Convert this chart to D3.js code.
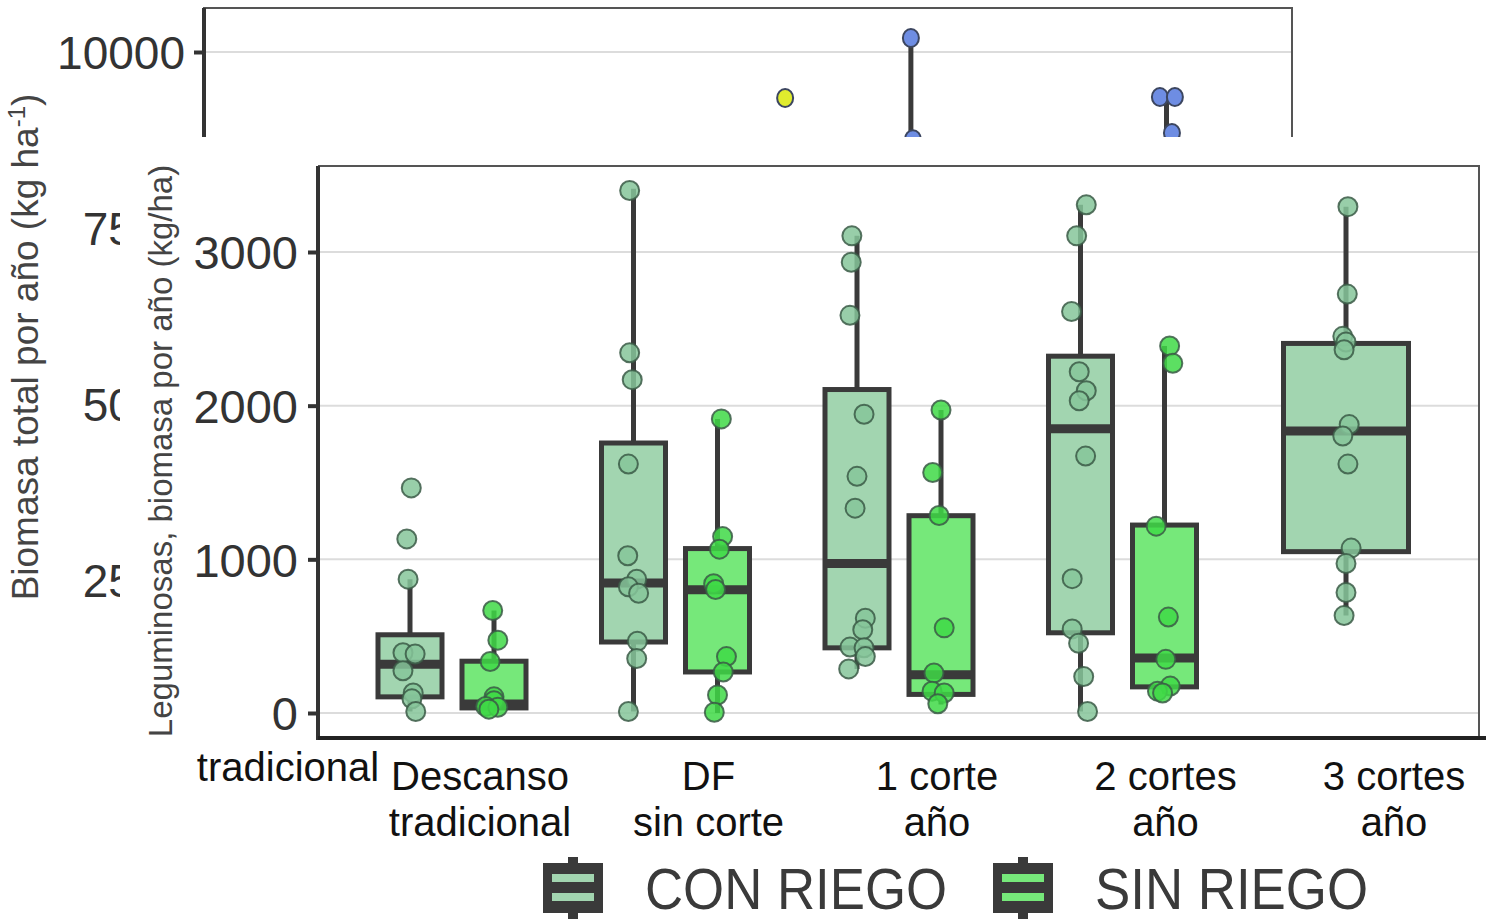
<!DOCTYPE html>
<html>
<head>
<meta charset="utf-8">
<script src="https://cdn.jsdelivr.net/npm/d3@7"></script>
<style>
  body { margin: 0; background: #fff; }
  text { font-family: "Liberation Sans", Arial, sans-serif; }
</style>
</head>
<body>
<svg width="1486" height="923"></svg>
<script>
// ---------------- data ----------------
var categories = ["Descanso tradicional", "DF sin corte", "1 corte año", "2 cortes año", "3 cortes año"];
var categoryLines = [["Descanso", "tradicional"], ["DF", "sin corte"], ["1 corte", "año"], ["2 cortes", "año"], ["3 cortes", "año"]];
var series = ["CON RIEGO", "SIN RIEGO"];
var yTicks = [0, 1000, 2000, 3000];

// box stats: [whisker low, q1, median, q3, whisker high]
var boxCon = [[10, 105, 317, 509, 871], [10, 462, 846, 1757, 3412], [287, 424, 973, 2105, 3105], [10, 522, 1850, 2322, 3307], [634, 1050, 1835, 2405, 3295]];
var boxSin = [[25, 33, 59, 337, 667], [0, 267, 802, 1070, 1914], [55, 121, 249, 1284, 1972], [125, 170, 358, 1223, 2389], null];

// observed points (value) with horizontal jitter as a share of box width
var ptsConVal = [[1465, 1133, 871, 392, 384, 275, 130, 92, 10],
                 [3400, 2344, 2169, 1620, 1023, 871, 821, 779, 467, 354, 10],
                 [3105, 2933, 2588, 1944, 1540, 1333, 617, 542, 429, 424, 367, 287],
                 [3307, 3105, 2613, 2221, 2097, 2032, 1672, 874, 547, 454, 237, 10],
                 [3295, 2726, 2451, 2414, 2364, 1877, 1802, 1620, 1073, 973, 784, 634]];
var ptsConJit = [[.02, -.05, -.03, -.11, .08, -.11, .05, .03, .09],
                 [-.06, -.06, -.02, -.08, -.09, .05, -.08, .08, .06, .05, -.08],
                 [-.08, -.09, -.11, .11, 0, -.03, .13, .09, -.11, .11, .13, -.13],
                 [.09, -.06, -.14, -.02, .09, -.02, .08, -.13, -.13, -.03, .05, .11],
                 [.03, .02, -.05, 0, -.03, .05, -.05, .03, .08, 0, 0, -.03]];
var ptsSinVal = [[667, 474, 335, 105, 80, 42, 37, 25],
                 [1914, 1148, 1066, 841, 804, 367, 267, 117, 5],
                 [1972, 1565, 1285, 554, 260, 142, 130, 60],
                 [2389, 2276, 1216, 624, 349, 175, 142, 130],
                 []];
var ptsSinJit = [[-.02, .06, -.06, 0, 0, -.13, .06, -.08],
                 [.06, .08, .03, -.06, -.03, .14, .09, 0, -.05],
                 [0, -.13, -.03, .05, -.11, -.14, .05, -.05],
                 [.08, .13, -.13, .06, .02, .09, -.11, -.03],
                 []];

// background chart (mostly hidden behind the inset)
var bgTicks = [2500, 5000, 7500, 10000];
var bgPointPos = [2.19, 2.744, 2.753, 3.841, 3.907, 3.894];
var bgPointVal = [9347, 10199, 8760, 9361, 9361, 8850];
var bgPointGroup = ["y", "b", "b", "b", "b", "b"];
var bgWhiskerPos = [2.744, 3.87];
var bgWhiskerLo = [8700, 8700];
var bgWhiskerHi = [10199, 9361];

// ---------------- styles ----------------
var fillBox = {"CON RIEGO": "#a2d5b0", "SIN RIEGO": "#76e87a"};
var fillPt = {"CON RIEGO": "#86c69a", "SIN RIEGO": "#3fd947"};
var dark = "#3a3a3a";

var svg = d3.select("svg");

// ################ background chart ################
var bgY = d3.scaleLinear().domain([0, 10000]).range([756, 52]);
var bgX = d3.scaleLinear().domain([0, 4]).range([288, 1196]);
var bgG = svg.append("g");

bgG.selectAll(".bggrid").data([10000]).enter().append("line")
    .attr("x1", 204).attr("x2", 1292)
    .attr("y1", function(d) { return bgY(d); }).attr("y2", function(d) { return bgY(d); })
    .attr("stroke", "#dcdcdc").attr("stroke-width", 2);
bgG.append("path").attr("d", "M204,140V8H1292V140").attr("fill", "none").attr("stroke", "#555").attr("stroke-width", 2);
bgG.append("line").attr("x1", 204).attr("x2", 204).attr("y1", 8).attr("y2", 140).attr("stroke", "#333").attr("stroke-width", 4);

var bgAxis = bgG.append("g").attr("transform", "translate(204,0)")
    .call(d3.axisLeft(bgY).tickValues(bgTicks).tickSize(10).tickSizeOuter(0).tickPadding(9).tickFormat(d3.format("d")));
bgAxis.select(".domain").remove();
bgAxis.selectAll("line").attr("stroke", "#333").attr("stroke-width", 4);
bgAxis.selectAll("text").attr("fill", "#333").style("font-size", "46px").attr("dy", "0.36em");

bgG.selectAll(".bgwhisk").data(bgWhiskerPos).enter().append("line")
    .attr("x1", function(d) { return bgX(d); }).attr("x2", function(d) { return bgX(d); })
    .attr("y1", function(d, i) { return bgY(bgWhiskerLo[i]); })
    .attr("y2", function(d, i) { return bgY(bgWhiskerHi[i]); })
    .attr("stroke", dark).attr("stroke-width", 5);
bgG.selectAll(".bgpt").data(bgPointPos).enter().append("ellipse")
    .attr("cx", function(d) { return bgX(d); })
    .attr("cy", function(d, i) { return bgY(bgPointVal[i]); })
    .attr("rx", 8).attr("ry", 9)
    .attr("fill", function(d, i) { return bgPointGroup[i] == "y" ? "#e0ec2e" : "#6e8de3"; })
    .attr("stroke", "#3c4660").attr("stroke-width", 2);

bgG.append("text").attr("transform", "translate(38,347) rotate(-90)")
    .attr("text-anchor", "middle").attr("fill", "#444").style("font-size", "37px")
    .html('Biomasa total por año (kg ha<tspan dy="-13" style="font-size:24px">-1</tspan><tspan dy="13">)</tspan>');

// background x label (only its last line shows)
bgG.append("text")
    .attr("x", bgX(0)).attr("y", 781)
    .attr("text-anchor", "middle").attr("fill", "#111").style("font-size", "40px")
    .text(categoryLines[0][1]);

// white cover of the inset
svg.append("path").attr("d", "M120,137H1486V923H383V745H120Z").attr("fill", "#fff");

// ################ inset chart ################
var panelL = 318, panelR = 1479, panelT = 166, panelB = 738;
var y = d3.scaleLinear().domain([0, 3000]).range([713, 252]);
var x = d3.scalePoint().domain(categories).range([452, 1346]);
var xLab = d3.scalePoint().domain(categories).range([480, 1394]);
var dodge = d3.scalePoint().domain(series).range([-42, 42]);
var boxW = 64;

var chartG = svg.append("g");

chartG.selectAll(".grid").data(yTicks).enter().append("line")
    .attr("x1", panelL).attr("x2", panelR)
    .attr("y1", function(d) { return y(d); }).attr("y2", function(d) { return y(d); })
    .attr("stroke", "#dcdcdc").attr("stroke-width", 2);

// build boxes
var boxes = [];
categories.forEach(function(c, i) {
    var both = boxCon[i] && boxSin[i];
    [[series[0], boxCon[i], ptsConVal[i], ptsConJit[i]], [series[1], boxSin[i], ptsSinVal[i], ptsSinJit[i]]].forEach(function(s) {
        if (!s[1]) return;
        boxes.push({
            cat: c, ser: s[0], st: s[1], vals: s[2], jit: s[3],
            cx: x(c) + (both ? dodge(s[0]) : 0),
            w: both ? boxW : 2 * boxW - 3
        });
    });
});

var bG = chartG.selectAll(".box").data(boxes).enter().append("g");
bG.append("line")
    .attr("x1", function(d) { return d.cx; }).attr("x2", function(d) { return d.cx; })
    .attr("y1", function(d) { return y(d.st[0]); }).attr("y2", function(d) { return y(d.st[4]); })
    .attr("stroke", dark).attr("stroke-width", 5);
bG.append("rect")
    .attr("x", function(d) { return d.cx - d.w / 2; })
    .attr("width", function(d) { return d.w; })
    .attr("y", function(d) { return y(d.st[3]); })
    .attr("height", function(d) { return y(d.st[1]) - y(d.st[3]); })
    .attr("fill", function(d) { return fillBox[d.ser]; })
    .attr("stroke", dark).attr("stroke-width", 5);
bG.append("line")
    .attr("x1", function(d) { return d.cx - d.w / 2; }).attr("x2", function(d) { return d.cx + d.w / 2; })
    .attr("y1", function(d) { return y(d.st[2]); }).attr("y2", function(d) { return y(d.st[2]); })
    .attr("stroke", dark).attr("stroke-width", 9);

// points
var pts = [];
boxes.forEach(function(b) {
    b.vals.forEach(function(v, k) { pts.push({ser: b.ser, v: v, px: b.cx + b.jit[k] * boxW}); });
});
chartG.selectAll(".pt").data(pts).enter().append("circle")
    .attr("cx", function(d) { return d.px; })
    .attr("cy", function(d) { return y(d.v); })
    .attr("r", 9.5)
    .attr("fill", function(d) { return fillPt[d.ser]; })
    .attr("fill-opacity", 0.85)
    .attr("stroke", "#3b5a46").attr("stroke-opacity", 0.85).attr("stroke-width", 2);

// frame & axes
chartG.append("path").attr("d", "M" + panelL + "," + panelT + "H" + panelR + "V" + panelB)
    .attr("fill", "none").attr("stroke", "#555").attr("stroke-width", 2);
chartG.append("line").attr("x1", panelL).attr("x2", panelL).attr("y1", panelT).attr("y2", panelB + 2)
    .attr("stroke", "#333").attr("stroke-width", 4);
chartG.append("line").attr("x1", panelL).attr("x2", 1486).attr("y1", panelB).attr("y2", panelB)
    .attr("stroke", "#222").attr("stroke-width", 4);

var yAxis = chartG.append("g").attr("transform", "translate(" + panelL + ",0)")
    .call(d3.axisLeft(y).tickValues(yTicks).tickSize(10).tickSizeOuter(0).tickPadding(10).tickFormat(d3.format("d")));
yAxis.select(".domain").remove();
yAxis.selectAll("line").attr("stroke", "#333").attr("stroke-width", 4);
yAxis.selectAll("text").attr("fill", "#333").style("font-size", "47px").attr("dy", "0.36em");

chartG.append("text").attr("transform", "translate(172,451) rotate(-90)")
    .attr("text-anchor", "middle").attr("fill", "#444").style("font-size", "33px")
    .text("Leguminosas, biomasa por año (kg/ha)");

// x labels
var xl = chartG.selectAll(".xl").data(categories).enter().append("text")
    .attr("text-anchor", "middle").attr("fill", "#111").style("font-size", "40px");
xl.selectAll("tspan").data(function(d, i) { return categoryLines[i]; }).enter().append("tspan")
    .attr("x", function() { return xLab(d3.select(this.parentNode).datum()); })
    .attr("y", function(d, i) { return 790 + i * 46; })
    .text(function(d) { return d; });

// legend
var legX = d3.scalePoint().domain(series).range([543, 993]);
var leg = chartG.selectAll(".leg").data(series).enter().append("g")
    .attr("transform", function(d) { return "translate(" + legX(d) + ",863)"; });
leg.append("rect").attr("x", 25).attr("y", -6).attr("width", 10).attr("height", 62).attr("fill", dark);
leg.append("rect").attr("x", 0).attr("y", 0).attr("width", 60).attr("height", 50).attr("fill", dark);
leg.append("rect").attr("x", 9).attr("y", 11).attr("width", 42).attr("height", 8)
    .attr("fill", function(d) { return fillBox[d]; });
leg.append("rect").attr("x", 9).attr("y", 30).attr("width", 42).attr("height", 8)
    .attr("fill", function(d) { return fillBox[d]; });
leg.append("text").attr("x", 102).attr("y", 46)
    .attr("fill", "#3a3a3a").style("font-size", "58px")
    .attr("textLength", function(d, i) { return i == 0 ? 302 : 273; })
    .attr("lengthAdjust", "spacingAndGlyphs")
    .text(function(d) { return d; });
</script>
</body>
</html>
